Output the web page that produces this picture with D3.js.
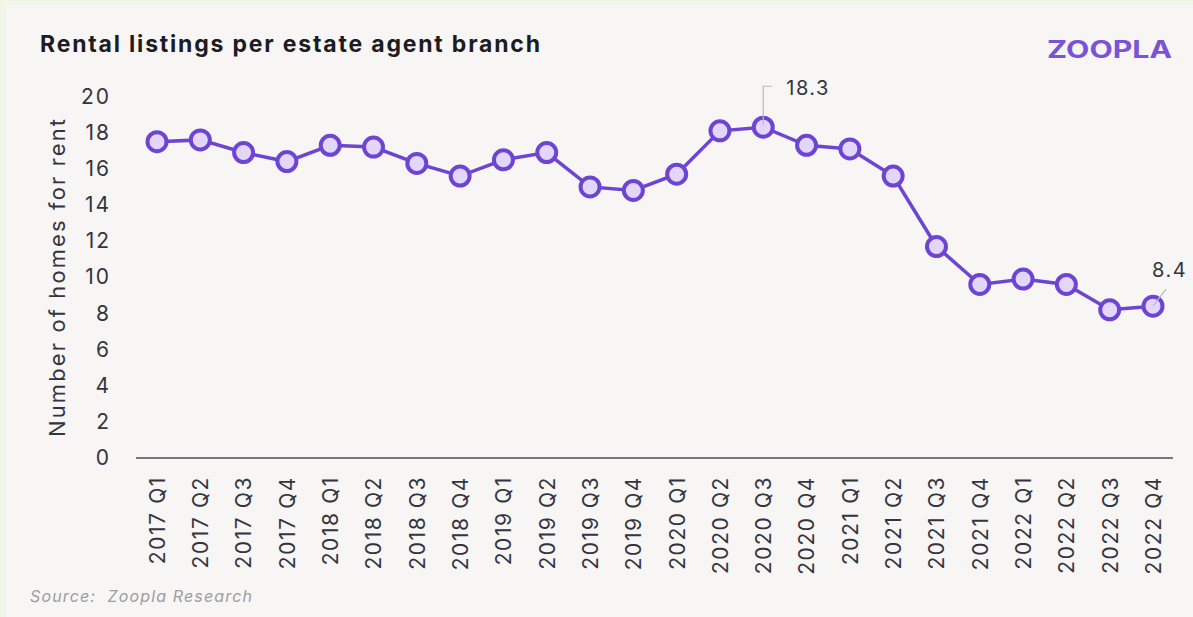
<!DOCTYPE html>
<meta charset="utf-8">

<!-- Load d3.js -->
<script src="https://d3js.org/d3.v7.min.js"></script>

<style>
  body { margin: 0; background: #f1f6e6; }
</style>

<!-- Create a div where the graph will take place -->
<div id="my_dataviz"></div>

<script>

// Quarters on the x axis
var quarters = [
  "2017 Q1", "2017 Q2", "2017 Q3", "2017 Q4",
  "2018 Q1", "2018 Q2", "2018 Q3", "2018 Q4",
  "2019 Q1", "2019 Q2", "2019 Q3", "2019 Q4",
  "2020 Q1", "2020 Q2", "2020 Q3", "2020 Q4",
  "2021 Q1", "2021 Q2", "2021 Q3", "2021 Q4",
  "2022 Q1", "2022 Q2", "2022 Q3", "2022 Q4"
];

// Rental listings per branch
var listings = [
  17.5, 17.6, 16.9, 16.4,
  17.3, 17.2, 16.3, 15.6,
  16.5, 16.9, 15.0, 14.8,
  15.7, 18.1, 18.3, 17.3,
  17.1, 15.6, 11.7, 9.6,
  9.9, 9.6, 8.2, 8.4
];

var yTicks = [0, 2, 4, 6, 8, 10, 12, 14, 16, 18, 20];

// which points get a value label
var labelled = ["2020 Q3", "2022 Q4"];

var width = 1193,
    height = 617;

var purple = "#6e45d3",
    textColor = "#34343f",
    font = "Inter, 'Open Sans', sans-serif";

var svg = d3.select("#my_dataviz")
  .append("svg")
  .attr("width", width)
  .attr("height", height)
  .style("display", "block");

// light panel
svg.append("rect")
  .attr("x", 6)
  .attr("y", 5)
  .attr("width", width - 6)
  .attr("height", height - 5)
  .attr("fill", "#f7f6f4");

// scales
var x = d3.scalePoint()
  .domain(quarters)
  .range([157, 1153]);

var y = d3.scaleLinear()
  .domain([0, 20])
  .range([458, 96.5]);

// y axis (labels only)
var yAxis = svg.append("g")
  .attr("transform", "translate(111,0)")
  .call(d3.axisLeft(y).tickValues(yTicks).tickSize(0).tickPadding(0));
yAxis.select(".domain").remove();
yAxis.selectAll("text")
  .style("font-family", font)
  .style("font-size", "21px")
  .style("letter-spacing", "2px")
  .style("fill", textColor);

// y axis title
svg.append("text")
  .attr("transform", "translate(65,278) rotate(-90)")
  .attr("text-anchor", "middle")
  .attr("textLength", 318)
  .attr("lengthAdjust", "spacing")
  .style("font-family", font)
  .style("font-size", "22px")
  .style("fill", textColor)
  .text("Number of homes for rent");

// x axis
var xAxis = svg.append("g")
  .attr("transform", "translate(0,458)")
  .call(d3.axisBottom(x).tickSize(0).tickPadding(0));
xAxis.select(".domain").remove();
xAxis.append("line")
  .attr("x1", 136)
  .attr("x2", 1173)
  .attr("stroke", "#4a4a55")
  .attr("stroke-width", 1.6);
xAxis.selectAll(".tick text")
  .attr("transform", "rotate(-90)")
  .attr("text-anchor", "end")
  .attr("x", -18)
  .attr("y", 0)
  .attr("dy", "0.35em")
  .style("font-family", font)
  .style("font-size", "21px")
  .style("letter-spacing", "1.6px")
  .style("fill", textColor);

// line
var points = quarters.map(function(q, i) { return {q: q, v: listings[i]}; });

var line = d3.line()
  .x(function(d) { return x(d.q); })
  .y(function(d) { return y(d.v); });

svg.append("path")
  .datum(points)
  .attr("fill", "none")
  .attr("stroke", purple)
  .attr("stroke-width", 3.5)
  .attr("d", line);

svg.selectAll(".dot")
  .data(points)
  .enter()
  .append("circle")
  .attr("class", "dot")
  .attr("cx", function(d) { return x(d.q); })
  .attr("cy", function(d) { return y(d.v); })
  .attr("r", 9.5)
  .attr("fill", "#e2d7fb")
  .attr("stroke", purple)
  .attr("stroke-width", 4);

// value labels with little leader lines
var peak = points.filter(function(d) { return d.q == labelled[0]; })[0];
var last = points.filter(function(d) { return d.q == labelled[1]; })[0];

svg.append("path")
  .attr("d", "M" + x(peak.q) + "," + (y(peak.v) - 2) + " V" + (y(peak.v) - 41) + " h9")
  .attr("fill", "none")
  .attr("stroke", "#b9b9c0")
  .attr("stroke-width", 1.2);
svg.append("text")
  .attr("x", x(peak.q) + 23)
  .attr("y", y(peak.v) - 32)
  .style("font-family", font)
  .style("font-size", "20px")
  .style("letter-spacing", "1.5px")
  .style("fill", textColor)
  .text(peak.v.toFixed(1));

svg.append("line")
  .attr("x1", x(last.q))
  .attr("y1", y(last.v))
  .attr("x2", x(last.q) + 13)
  .attr("y2", y(last.v) - 17)
  .attr("stroke", "#b9b9c0")
  .attr("stroke-width", 1.2);
svg.append("text")
  .attr("x", x(last.q) - 1)
  .attr("y", y(last.v) - 29)
  .style("font-family", font)
  .style("font-size", "20px")
  .style("letter-spacing", "1.5px")
  .style("fill", textColor)
  .text(last.v.toFixed(1));

// title
svg.append("text")
  .attr("x", 40)
  .attr("y", 52)
  .attr("textLength", 500)
  .attr("lengthAdjust", "spacing")
  .style("font-family", font)
  .style("font-size", "23px")
  .style("font-weight", "700")
  .style("fill", "#1c1c22")
  .text("Rental listings per estate agent branch");

// logo
svg.append("text")
  .attr("x", 1047)
  .attr("y", 58)
  .attr("textLength", 125)
  .attr("lengthAdjust", "spacingAndGlyphs")
  .style("font-family", font)
  .style("font-size", "24px")
  .style("font-weight", "700")
  .style("fill", "#7b52d8")
  .text("ZOOPLA");

// source
svg.append("text")
  .attr("x", 30)
  .attr("y", 602)
  .attr("textLength", 222)
  .attr("lengthAdjust", "spacing")
  .style("font-family", font)
  .style("font-size", "16px")
  .style("font-style", "italic")
  .style("fill", "#9c9ca2")
  .attr("xml:space", "preserve")
  .text("Source:  Zoopla Research");

</script>
